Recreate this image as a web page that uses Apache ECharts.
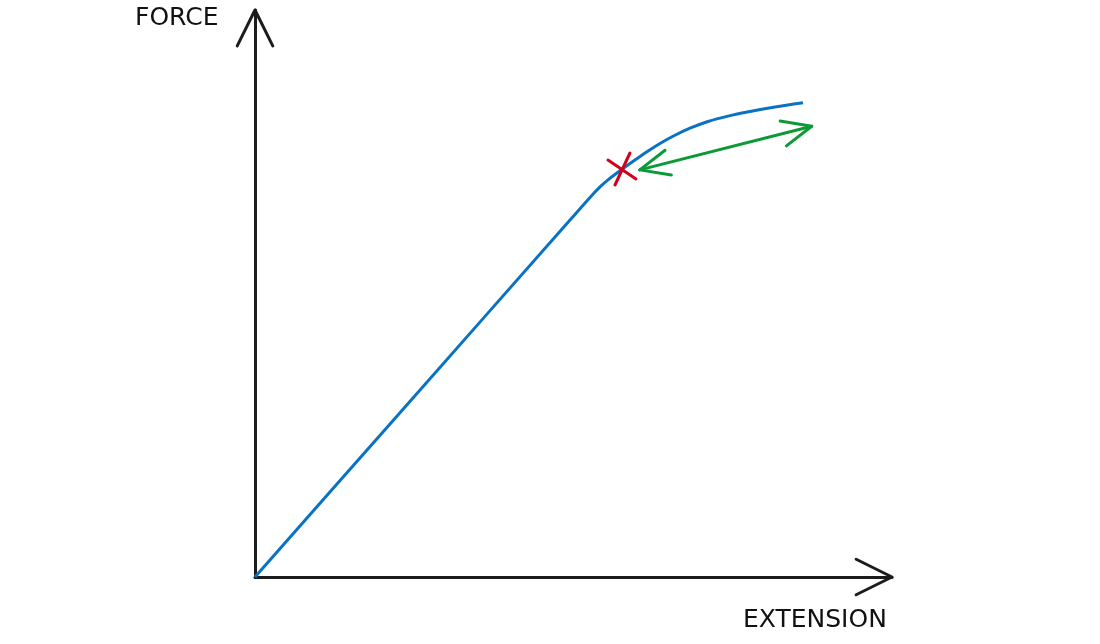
<!DOCTYPE html>
<html>
<head>
<meta charset="utf-8">
<script src="https://cdn.jsdelivr.net/npm/echarts@6/dist/echarts.min.js"></script>
<style>html,body{margin:0;padding:0;background:#fff}#c{width:1100px;height:644px}</style>
</head>
<body>
<div id="c"></div>
<script>
// Axis titles
const xTitle = 'EXTENSION';
const yTitle = 'FORCE';
// Force–extension curve (x = extension, y = force), arbitrary units 0..100
const curveX = [0, 22.76, 49.45, 52.59, 54.16, 55.42, 57.61, 59.65, 61.54, 63.58, 65.62, 68.29, 71.11, 74.25, 77.71, 81.63, 86.03];
const curveY = [0, 28.98, 62.95, 66.95, 68.80, 70.04, 71.90, 73.54, 75.01, 76.46, 77.74, 79.15, 80.34, 81.29, 82.10, 82.89, 83.63];
// Limit of proportionality (red cross)
const limitPoint = [57.61, 71.78];
// Double-headed arrow: start and end
const arrowStart = [60.4, 71.8];
const arrowEnd = [87.4, 79.5];
// Axis ranges
const axisMax = 100;

const curveData = curveX.map((x, i) => [x, curveY[i]]);

function chevronSeries(name, items, color, len, half) {
  return {
    type: 'custom', name, silent: true, clip: false, z: 5,
    data: items,
    renderItem: function (params, api) {
      const tip = api.coord([api.value(0), api.value(1)]);
      const from = api.coord([api.value(2), api.value(3)]);
      const ang = Math.atan2(from[1] - tip[1], from[0] - tip[0]);
      const a1 = ang + half, a2 = ang - half;
      return {
        type: 'polyline',
        shape: { points: [
          [tip[0] + len * Math.cos(a1), tip[1] + len * Math.sin(a1)],
          tip,
          [tip[0] + len * Math.cos(a2), tip[1] + len * Math.sin(a2)]
        ] },
        style: { stroke: color, lineWidth: 3, fill: null, lineCap: 'round', lineJoin: 'round' }
      };
    }
  };
}

const chart = echarts.init(document.getElementById('c'));
chart.setOption({
  animation: false,
  backgroundColor: '#fff',
  grid: { left: 255, right: 208, top: 10, bottom: 67 },
  xAxis: {
    type: 'value', min: 0, max: axisMax,
    axisLine: { show: true, lineStyle: { color: '#1c1c1c', width: 3 } },
    axisTick: { show: false }, axisLabel: { show: false }, splitLine: { show: false }
  },
  yAxis: {
    type: 'value', min: 0, max: axisMax,
    axisLine: { show: true, lineStyle: { color: '#1c1c1c', width: 3 } },
    axisTick: { show: false }, axisLabel: { show: false }, splitLine: { show: false }
  },
  graphic: [
    { type: 'text', left: 135, top: 6, style: { text: yTitle, font: '25px "DejaVu Sans"', fill: '#111' } },
    { type: 'text', left: 743, top: 608, style: { text: xTitle, font: '25px "DejaVu Sans"', fill: '#111' } }
  ],
  series: [
    {
      type: 'line', name: 'curve', data: curveData, smooth: 0.3, showSymbol: false,
      lineStyle: { color: '#0a72c2', width: 3 }, z: 3
    },
    {
      type: 'line', name: 'arrow', data: [arrowStart, arrowEnd], showSymbol: false,
      lineStyle: { color: '#0b9a36', width: 3, cap: 'round' }, z: 4
    },
    chevronSeries('arrowHeads', [
      [arrowStart[0], arrowStart[1], arrowEnd[0], arrowEnd[1]],
      [arrowEnd[0], arrowEnd[1], arrowStart[0], arrowStart[1]]
    ], '#0b9a36', 32, 0.41),
    chevronSeries('axisHeads', [
      [axisMax, 0, 0, 0],
      [0, axisMax, 0, 0]
    ], '#1c1c1c', 40, 0.46),
    {
      type: 'custom', name: 'limit', data: [limitPoint], clip: false, z: 6,
      renderItem: function (params, api) {
        const c = api.coord([api.value(0), api.value(1)]);
        const st = { stroke: '#d0021b', lineWidth: 3, lineCap: 'round' };
        return {
          type: 'group',
          children: [
            { type: 'line', shape: { x1: c[0] - 14, y1: c[1] - 10, x2: c[0] + 14, y2: c[1] + 9 }, style: st },
            { type: 'line', shape: { x1: c[0] + 8, y1: c[1] - 17, x2: c[0] - 7, y2: c[1] + 15 }, style: st }
          ]
        };
      }
    }
  ]
});
</script>
</body>
</html>
